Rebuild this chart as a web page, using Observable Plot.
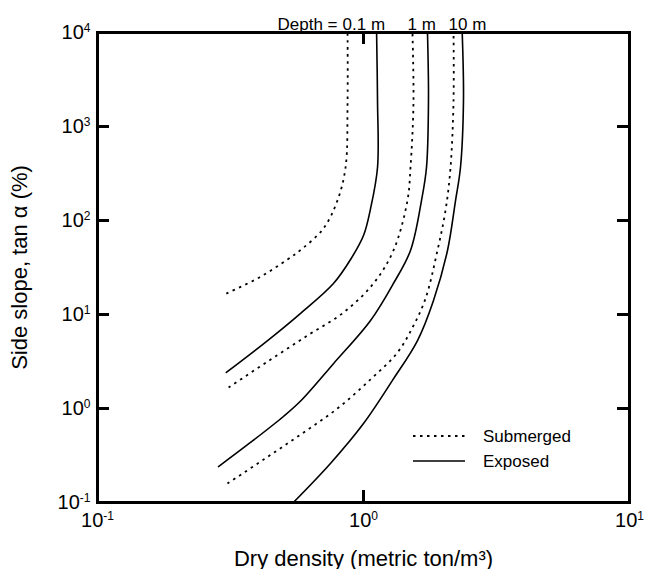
<!DOCTYPE html>
<html><head><meta charset="utf-8">
<script src="https://cdn.jsdelivr.net/npm/d3@7"></script>
<script src="https://cdn.jsdelivr.net/npm/@observablehq/plot@0.6"></script>
<style>body{margin:0;background:#fff;} #chart{width:651px;height:569px;}</style>
</head><body><div id="chart"></div>
<script>
// Data (x: dry density, metric ton/m^3; y: side slope tan α, %)
const sub01X = [0.305, 0.406, 0.518, 0.590, 0.707, 0.798, 0.856, 0.871, 0.871];
const sub01Y = [16.7, 24.8, 38.5, 50.4, 82.2, 163, 366, 1760, 10000];
const exp01X = [0.305, 0.436, 0.580, 0.771, 0.894, 1.0, 1.063, 1.129, 1.129, 1.12];
const exp01Y = [2.42, 5.28, 10.3, 21.4, 38.5, 69.2, 134, 366, 1890, 10000];
const sub1X = [0.311, 0.436, 0.616, 0.841, 1.090, 1.296, 1.463, 1.502, 1.541, 1.528];
const sub1Y = [1.67, 3.16, 5.98, 10.5, 21.4, 48.0, 163, 366, 1760, 10000];
const exp1X = [0.285, 0.376, 0.500, 0.580, 0.771, 1.063, 1.296, 1.502, 1.652, 1.725, 1.755, 1.74];
const exp1Y = [0.241, 0.435, 0.822, 1.20, 3.0, 8.63, 21.4, 48.0, 163, 366, 1890, 10000];
const sub10X = [0.308, 0.421, 0.580, 0.798, 1.063, 1.342, 1.542, 1.711, 1.897, 2.034, 2.124, 2.18, 2.18];
const sub10Y = [0.159, 0.286, 0.528, 1.0, 2.04, 3.94, 7.64, 14.8, 48.0, 128, 366, 1890, 10000];
const exp10X = [0.545, 0.751, 1.0, 1.285, 1.596, 1.833, 2.069, 2.218, 2.315, 2.376, 2.35];
const exp10Y = [0.1, 0.260, 0.692, 1.99, 5.28, 14.1, 48.0, 163, 366, 1890, 10000];

const xTicks = [0.1, 1, 10];
const yTicks = [0.1, 1, 10, 100, 1000, 10000];
const depthLabels = ["0.1 m", "1 m", "10 m"];
const legendLabels = ["Submerged", "Exposed"];

const W = 651, H = 569, mL = 97, mR = 22, mT = 32, mB = 67;
const pw = W - mL - mR, ph = H - mT - mB;

const rows = [];
function add(xs, ys, depth, cond) { xs.forEach((x, i) => rows.push({x, y: ys[i], depth, cond})); }
add(sub01X, sub01Y, "0.1 m", "Submerged");
add(exp01X, exp01Y, "0.1 m", "Exposed");
add(sub1X, sub1Y, "1 m", "Submerged");
add(exp1X, exp1Y, "1 m", "Exposed");
add(sub10X, sub10Y, "10 m", "Submerged");
add(exp10X, exp10Y, "10 m", "Exposed");

const subTops = [sub01X.at(-1), sub1X.at(-1), sub10X.at(-1)];
const depthRows = depthLabels.map((t, i) => ({t, x: subTops[i]}));

const supFmt = d => "10^" + Math.round(Math.log10(d));
const DASH = "2.5,4.5";
const FONT = "'Liberation Sans', Arial, sans-serif";

const chart = Plot.plot({
  width: W, height: H,
  marginLeft: mL, marginRight: mR, marginTop: mT, marginBottom: mB,
  x: {type: "log", domain: [0.1, 10]},
  y: {type: "log", domain: [0.1, 10000]},
  style: {fontFamily: FONT, fontSize: "20px", color: "#000", background: "#fff"},
  marks: [
    Plot.line(rows.filter(r => r.cond === "Submerged"), {x: "x", y: "y", z: "depth", stroke: "#000", strokeWidth: 1.8, strokeDasharray: DASH, strokeLinecap: "butt", curve: "catmull-rom"}),
    Plot.line(rows.filter(r => r.cond === "Exposed"), {x: "x", y: "y", z: "depth", stroke: "#000", strokeWidth: 1.6, curve: "catmull-rom"}),
    Plot.frame({stroke: "#000", strokeWidth: 3}),
    Plot.tickY(yTicks, {y: d => d, insetRight: pw - 12, strokeWidth: 3, stroke: "#000"}),
    Plot.tickY(yTicks, {y: d => d, insetLeft: pw - 12, strokeWidth: 3, stroke: "#000"}),
    Plot.tickX(xTicks, {x: d => d, insetTop: ph - 12, strokeWidth: 3, stroke: "#000"}),
    Plot.tickX(xTicks, {x: d => d, insetBottom: ph - 12, strokeWidth: 3, stroke: "#000"}),
    Plot.axisX({ticks: xTicks, tickSize: 0, tickPadding: 10, tickFormat: supFmt,
      label: "Dry density (metric ton/m³)", labelAnchor: "center", labelArrow: "none", labelOffset: 63}),
    Plot.axisY({ticks: yTicks, tickSize: 0, tickPadding: 7, tickFormat: supFmt,
      label: "Side slope, tan α (%)", labelAnchor: "center", labelArrow: "none", labelOffset: 86}),
    Plot.text(depthRows, {x: "x", text: "t", frameAnchor: "top", textAnchor: "start", lineAnchor: "bottom", dx: -5, dy: -3, fontSize: 17}),
    Plot.text([{t: "Depth =", x: subTops[0]}], {x: "x", text: "t", frameAnchor: "top", textAnchor: "end", lineAnchor: "bottom", dx: -10, dy: -3, fontSize: 17})
  ]
});

const svg = d3.select(chart);
svg.selectAll('g[aria-label="x-axis tick label"] text, g[aria-label="y-axis tick label"] text').each(function() {
  const t = this.textContent;
  if (t.includes("^")) {
    const [b, e] = t.split("^");
    const s = d3.select(this);
    s.text(b);
    s.append("tspan").attr("dy", "-0.6em").attr("font-size", "0.6em").text(e);
  }
});
svg.selectAll('g[aria-label="x-axis label"], g[aria-label="y-axis label"]').attr("font-size", 22);

// Legend
const lg = svg.append("g").attr("font-size", 17).attr("font-family", FONT).attr("text-anchor", "start");
legendLabels.forEach((lab, i) => {
  const y = 436 + i * 25;
  lg.append("line").attr("x1", 413).attr("x2", 465).attr("y1", y).attr("y2", y)
    .attr("stroke", "#000").attr("stroke-width", i === 0 ? 1.8 : 1.6)
    .attr("stroke-dasharray", i === 0 ? DASH : null);
  lg.append("text").attr("x", 483).attr("y", y).attr("dy", "0.35em").text(lab);
});

document.getElementById("chart").appendChild(chart);
</script>
</body></html>
